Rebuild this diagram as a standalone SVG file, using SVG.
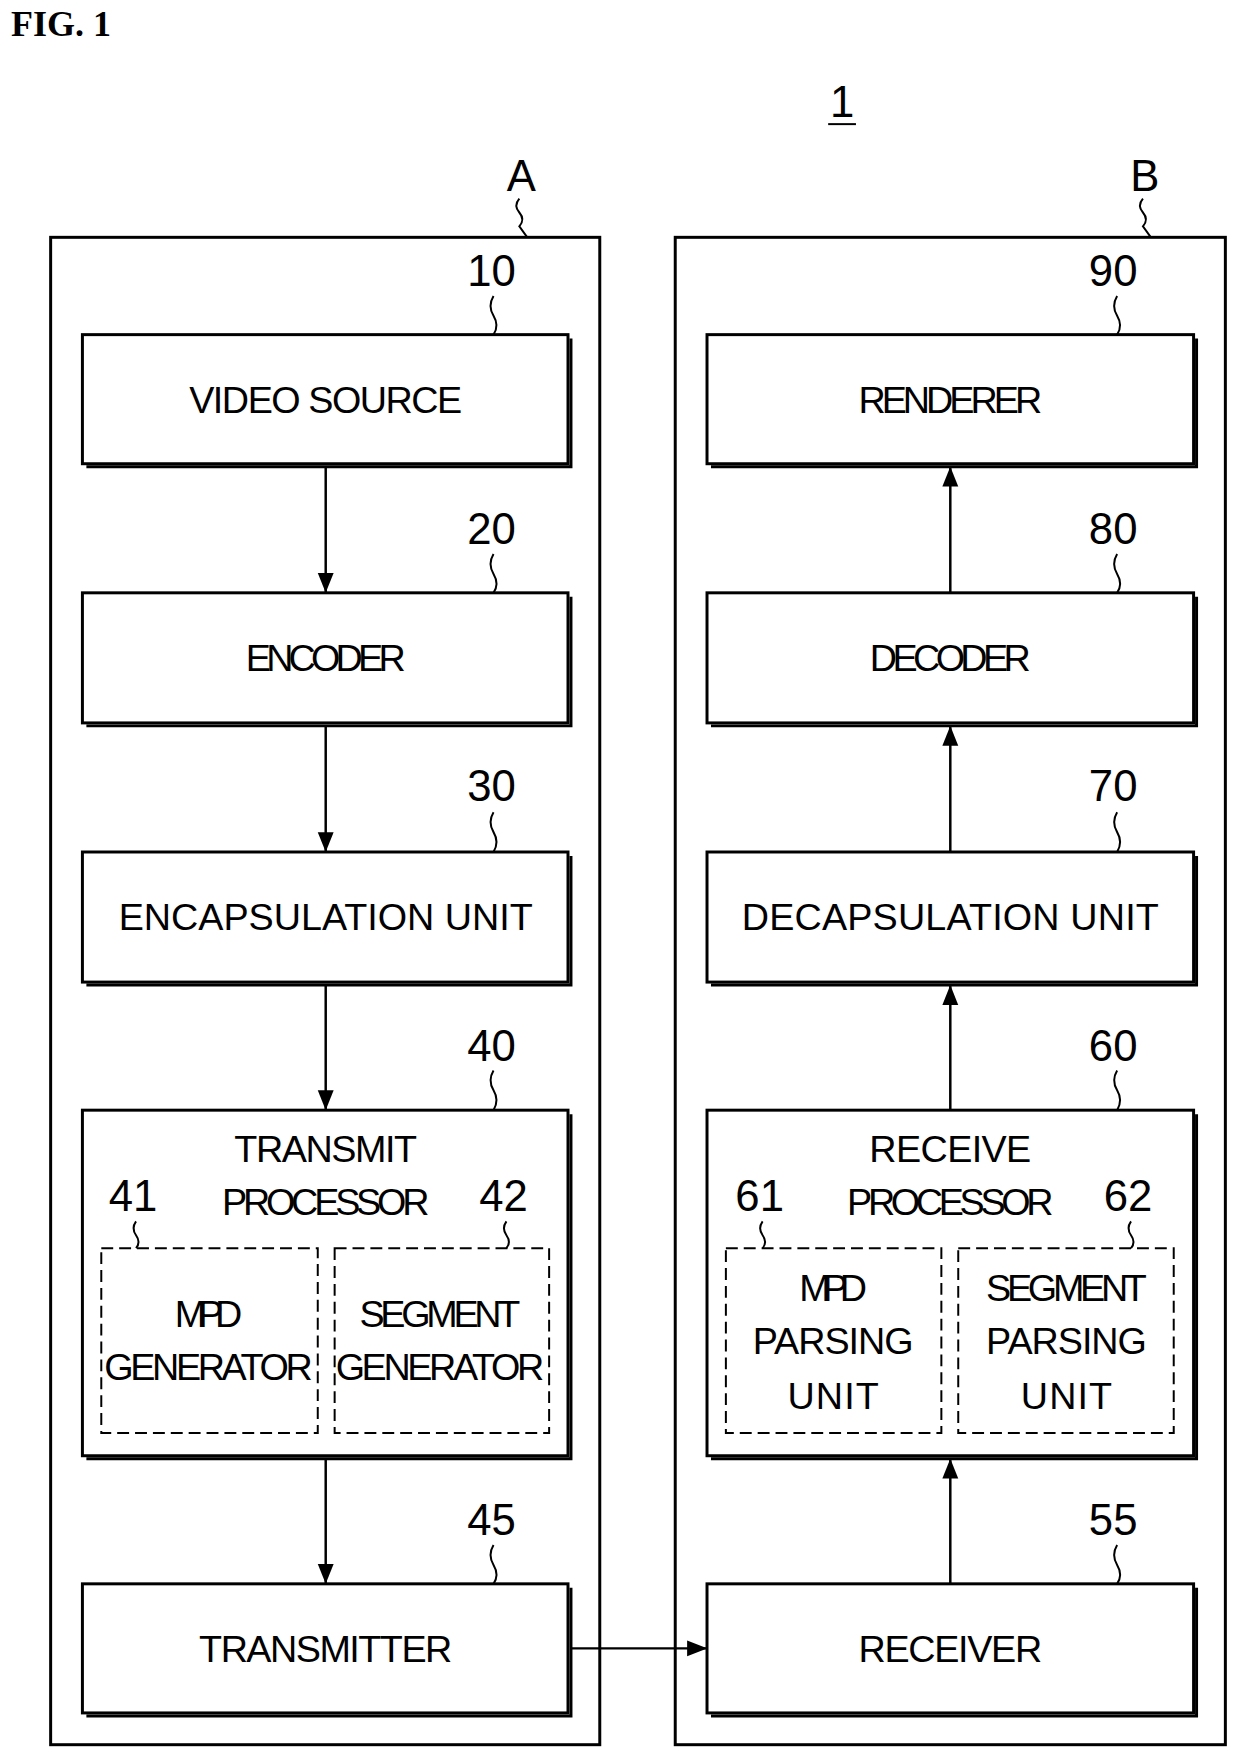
<svg xmlns="http://www.w3.org/2000/svg" width="1247" height="1764" viewBox="0 0 1247 1764">
<defs>
<style>
.t{font-family:"Liberation Sans",Arial,sans-serif;font-size:38px;fill:#000;text-anchor:middle}
.n{font-family:"Liberation Sans",Arial,sans-serif;font-size:44px;fill:#000;text-anchor:middle}
.box{fill:#fff;stroke:#000;stroke-width:3}
.sh{fill:none;stroke:#000;stroke-width:3}
.dash{fill:none;stroke:#000;stroke-width:2;stroke-dasharray:12,6}
.frame{fill:none;stroke:#000;stroke-width:3}
.sq{fill:none;stroke:#000;stroke-width:2}
.c{stroke:#000;stroke-width:2.5;fill:none}
</style>
<marker id="ah" viewBox="0 0 10 10" refX="10" refY="5" markerWidth="20" markerHeight="20" orient="auto" markerUnits="userSpaceOnUse"><path d="M0,1L10,5L0,9z" fill="#000"/></marker>
</defs>
<text x="11" y="36" style="font-family:'Liberation Serif',serif;font-weight:bold;font-size:36px">FIG. 1</text>
<g transform="scale(0.993)">
<text x="848" y="118" class="n">1</text>
<line x1="834" y1="125" x2="862" y2="125" stroke="#000" stroke-width="2"/>
<g id="A"><rect x="51" y="239" width="553" height="1518" class="frame"/><text x="525" y="192" class="n">A</text><path d="M523,200 q-6,7 0,14 q6,7 0,14 l8,11" class="sq"/></g>
<g id="B"><rect x="680" y="239" width="554" height="1518" class="frame"/><text x="1153" y="192" class="n">B</text><path d="M1151,200 q-6,7 0,14 q6,7 0,14 l8,11" class="sq"/></g>
<g id="n10"><rect x="83" y="337" width="489" height="130" class="box"/><path d="M575,341V470H87" class="sh"/><text x="328" y="416" class="t" textLength="275">VIDEO SOURCE</text><text x="495" y="288" class="n">10</text><path d="M497,298q-6,10 0,20q6,10 0,19" class="sq"/></g>
<g id="n20"><rect x="83" y="597" width="489" height="131" class="box"/><path d="M575,601V731H87" class="sh"/><text x="328" y="676" class="t" textLength="161">ENCODER</text><text x="495" y="548" class="n">20</text><path d="M497,558q-6,10 0,20q6,10 0,19" class="sq"/></g>
<g id="n30"><rect x="83" y="858" width="489" height="131" class="box"/><path d="M575,862V992H87" class="sh"/><text x="328" y="937" class="t" textLength="417">ENCAPSULATION UNIT</text><text x="495" y="807" class="n">30</text><path d="M497,818q-6,10 0,20q6,10 0,20" class="sq"/></g>
<g id="n40"><rect x="83" y="1118" width="489" height="348" class="box"/><path d="M575,1122V1469H87" class="sh"/><text x="328" y="1170" class="t" textLength="184">TRANSMIT</text><text x="328" y="1224" class="t" textLength="209">PROCESSOR</text><text x="495" y="1068" class="n">40</text><path d="M497,1078q-6,10 0,20q6,10 0,20" class="sq"/>
<g id="n41"><rect x="102" y="1257" width="218" height="186" class="dash"/><text x="210" y="1336" class="t" textLength="68">MPD</text><text x="210" y="1390" class="t" textLength="210">GENERATOR</text><text x="134" y="1220" class="n">41</text><path d="M137,1230q-5,7 0,14q5,7 0,13" class="sq"/></g>
<g id="n42"><rect x="337" y="1257" width="216" height="186" class="dash"/><text x="443" y="1336" class="t" textLength="162">SEGMENT</text><text x="443" y="1390" class="t" textLength="210">GENERATOR</text><text x="507" y="1220" class="n">42</text><path d="M510,1230q-5,7 0,14q5,7 0,13" class="sq"/></g></g>
<g id="n45"><rect x="83" y="1595" width="489" height="130" class="box"/><path d="M575,1599V1728H87" class="sh"/><text x="328" y="1674" class="t" textLength="255">TRANSMITTER</text><text x="495" y="1546" class="n">45</text><path d="M497,1556q-6,10 0,20q6,10 0,19" class="sq"/></g>
<g id="n90"><rect x="712" y="337" width="490" height="130" class="box"/><path d="M1205,341V470H716" class="sh"/><text x="957" y="416" class="t" textLength="185">RENDERER</text><text x="1121" y="288" class="n">90</text><path d="M1125,298q-6,10 0,20q6,10 0,19" class="sq"/></g>
<g id="n80"><rect x="712" y="597" width="490" height="131" class="box"/><path d="M1205,601V731H716" class="sh"/><text x="957" y="676" class="t" textLength="162">DECODER</text><text x="1121" y="548" class="n">80</text><path d="M1125,558q-6,10 0,20q6,10 0,19" class="sq"/></g>
<g id="n70"><rect x="712" y="858" width="490" height="131" class="box"/><path d="M1205,862V992H716" class="sh"/><text x="957" y="937" class="t" textLength="420">DECAPSULATION UNIT</text><text x="1121" y="807" class="n">70</text><path d="M1125,818q-6,10 0,20q6,10 0,20" class="sq"/></g>
<g id="n60"><rect x="712" y="1118" width="490" height="348" class="box"/><path d="M1205,1122V1469H716" class="sh"/><text x="957" y="1170" class="t" textLength="163">RECEIVE</text><text x="957" y="1224" class="t" textLength="208">PROCESSOR</text><text x="1121" y="1068" class="n">60</text><path d="M1125,1078q-6,10 0,20q6,10 0,20" class="sq"/>
<g id="n61"><rect x="731" y="1257" width="217" height="186" class="dash"/><text x="839" y="1310" class="t" textLength="68">MPD</text><text x="839" y="1364" class="t" textLength="162">PARSING</text><text x="839" y="1419" class="t" textLength="92">UNIT</text><text x="765" y="1220" class="n">61</text><path d="M768,1230q-5,7 0,14q5,7 0,13" class="sq"/></g>
<g id="n62"><rect x="965" y="1257" width="217" height="186" class="dash"/><text x="1074" y="1310" class="t" textLength="162">SEGMENT</text><text x="1074" y="1364" class="t" textLength="162">PARSING</text><text x="1074" y="1419" class="t" textLength="92">UNIT</text><text x="1136" y="1220" class="n">62</text><path d="M1139,1230q-5,7 0,14q5,7 0,13" class="sq"/></g></g>
<g id="n55"><rect x="712" y="1595" width="490" height="130" class="box"/><path d="M1205,1599V1728H716" class="sh"/><text x="957" y="1674" class="t" textLength="185">RECEIVER</text><text x="1121" y="1546" class="n">55</text><path d="M1125,1556q-6,10 0,20q6,10 0,19" class="sq"/></g>
<g id="connectors">
<line x1="328" y1="470" x2="328" y2="597" class="c" marker-end="url(#ah)"/>
<line x1="328" y1="731" x2="328" y2="858" class="c" marker-end="url(#ah)"/>
<line x1="328" y1="992" x2="328" y2="1118" class="c" marker-end="url(#ah)"/>
<line x1="328" y1="1469" x2="328" y2="1595" class="c" marker-end="url(#ah)"/>
<line x1="575" y1="1660" x2="712" y2="1660" class="c" stroke-width="1.5" marker-end="url(#ah)"/>
<line x1="957" y1="1595" x2="957" y2="1469" class="c" marker-end="url(#ah)"/>
<line x1="957" y1="1118" x2="957" y2="992" class="c" marker-end="url(#ah)"/>
<line x1="957" y1="858" x2="957" y2="731" class="c" marker-end="url(#ah)"/>
<line x1="957" y1="597" x2="957" y2="470" class="c" marker-end="url(#ah)"/>
</g>
</g>
</svg>
